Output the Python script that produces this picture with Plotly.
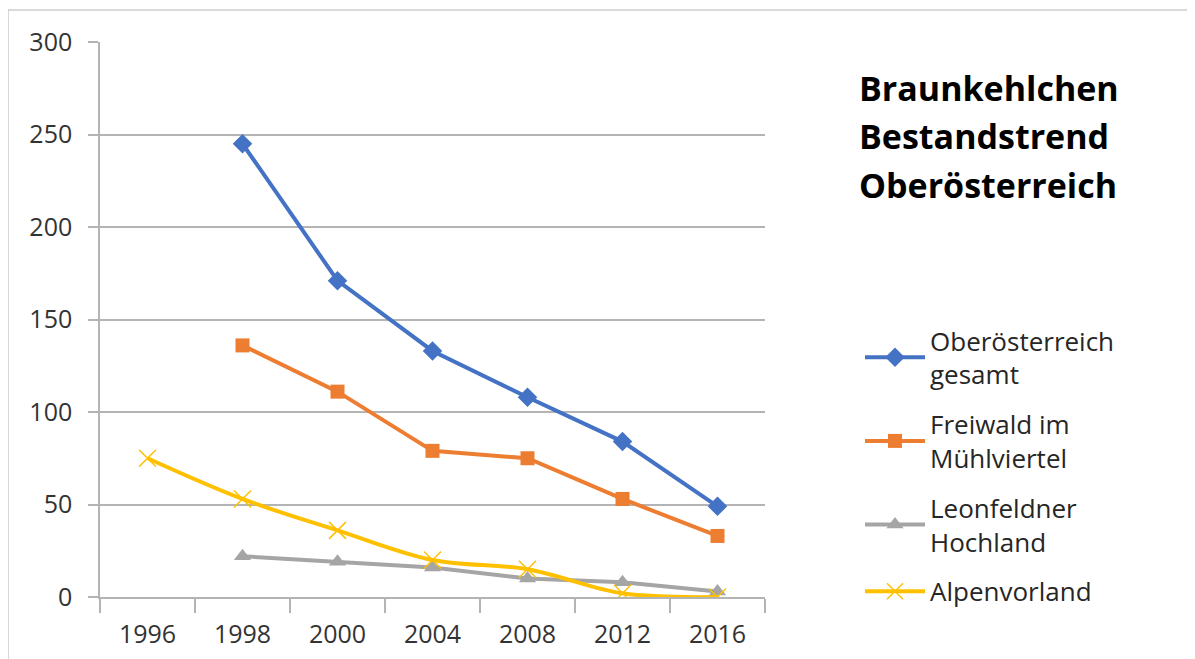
import plotly.graph_objects as go

years = ["1996", "1998", "2000", "2004", "2008", "2012", "2016"]
ooe_gesamt = [None, 245, 171, 133, 108, 84, 49]
freiwald = [None, 136, 111, 79, 75, 53, 33]
leonfeldner = [None, 22, 19, 16, 10, 8, 3]
alpenvorland = [75, 53, 36, 20, 15, 2, 0]

series_names = ["Oberösterreich<br>gesamt", "Freiwald im<br>Mühlviertel",
                "Leonfeldner<br>Hochland", "Alpenvorland"]
colors = ["#4472C4", "#ED7D31", "#A5A5A5", "#FFC000"]
title_lines = ["Braunkehlchen", "Bestandstrend", "Oberösterreich"]

OFF = 8  # page body offset
W, H = 1195, 659
L, T = 100 - OFF, 42 - OFF
pw, ph = 665, 555
R = W - L - pw
B = H - T - ph

def px(x):
    return (x - 100) / pw

def py(y):
    return (597 - y) / ph

fig = go.Figure()
data = [ooe_gesamt, freiwald, leonfeldner, alpenvorland]
markers = [dict(symbol="diamond", size=15),
           dict(symbol="square", size=14),
           dict(symbol="triangle-up", size=15),
           dict(symbol="x-thin", size=17, line=dict(width=1.5, color=colors[3]))]
shapes_line = ["linear", "linear", "linear", "spline"]
for i in range(4):
    m = dict(markers[i])
    m["color"] = colors[i]
    fig.add_trace(go.Scatter(
        x=years, y=data[i], name=series_names[i], mode="lines+markers",
        line=dict(color=colors[i], width=4, shape=shapes_line[i]),
        marker=m, legendgroup=f"g{i}", connectgaps=False))

FONT = "Open Sans, Liberation Sans, sans-serif"
title_y = [88, 136, 185]
annotations = [dict(text="<b>" + t + "</b>", x=px(857), y=py(yc),
                    xref="paper", yref="paper", xanchor="left", yanchor="middle",
                    align="left", showarrow=False,
                    font=dict(size=34, color="#000000", family=FONT))
               for t, yc in zip(title_lines, title_y)]

fig.update_layout(
    width=W, height=H,
    margin=dict(l=L, r=R, t=T, b=B),
    paper_bgcolor="white", plot_bgcolor="white",
    font=dict(family=FONT, color="#333333", size=25),
    showlegend=True,
    legend=dict(x=px(860), y=py(317), xanchor="left", yanchor="top",
                font=dict(size=26, color="#262626"),
                tracegroupgap=13, itemwidth=60, bgcolor="rgba(0,0,0,0)"),
    xaxis=dict(type="category", showgrid=False, showline=True, linecolor="#b4b4b4",
               linewidth=1.5, ticks="outside", tickson="boundaries", ticklen=14,
               tickcolor="#b4b4b4", tickwidth=1.5, ticklabelstandoff=14,
               tickfont=dict(size=25, color="#333333"), range=[-0.5, 6.5]),
    yaxis=dict(range=[0, 300], dtick=50, showgrid=True, gridcolor="#b4b4b4",
               gridwidth=1.5, showline=True, linecolor="#b4b4b4", linewidth=1.5,
               ticks="outside", ticklen=10, tickcolor="#b4b4b4", tickwidth=1.5,
               ticklabelstandoff=11, tickfont=dict(size=25, color="#333333"),
               zeroline=False),
    annotations=annotations,
    shapes=[dict(type="rect", xref="paper", yref="paper",
                 x0=px(8), x1=px(1190), y0=py(690), y1=py(10),
                 line=dict(color="#b4b4b4", width=1), layer="below")],
)

fig.write_html("out.html")
